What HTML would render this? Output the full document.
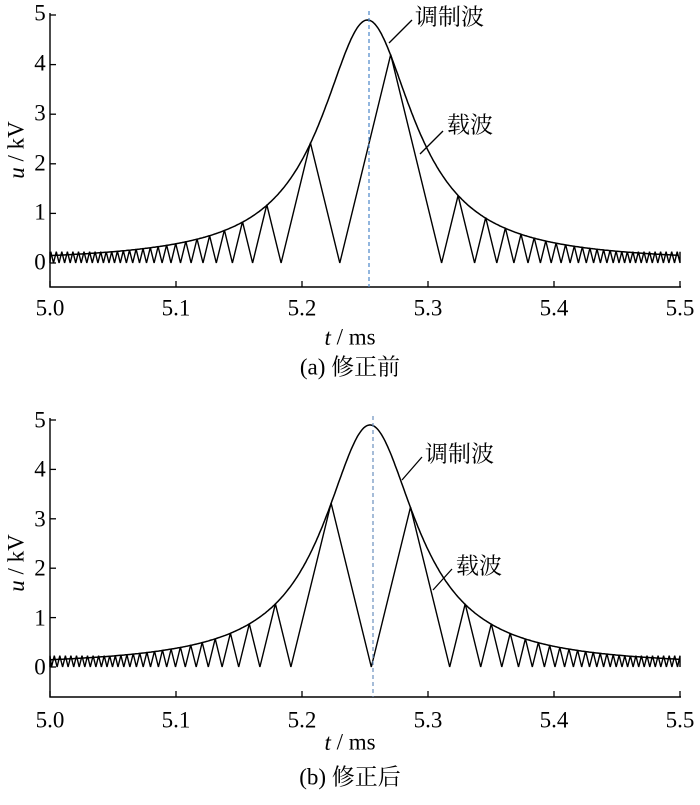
<!DOCTYPE html>
<html><head><meta charset="utf-8">
<style>
html,body{margin:0;padding:0;background:#fff;}
text{font-family:"Liberation Serif","Times New Roman","Noto Serif CJK SC",serif;}
</style></head>
<body>
<svg id="s" width="700" height="800" viewBox="0 0 700 800" xmlns="http://www.w3.org/2000/svg">
<g id="g"></g>
<g font-size="23" fill="#000" font-family="Liberation Serif, Noto Serif CJK SC, serif">
<text x="40" y="13" text-anchor="middle" dominant-baseline="central">5</text>
<text x="40" y="63" text-anchor="middle" dominant-baseline="central">4</text>
<text x="40" y="113" text-anchor="middle" dominant-baseline="central">3</text>
<text x="40" y="163" text-anchor="middle" dominant-baseline="central">2</text>
<text x="40" y="212" text-anchor="middle" dominant-baseline="central">1</text>
<text x="40" y="262" text-anchor="middle" dominant-baseline="central">0</text>
<text x="50" y="308" text-anchor="middle" dominant-baseline="central">5.0</text>
<text x="176" y="308" text-anchor="middle" dominant-baseline="central">5.1</text>
<text x="302" y="308" text-anchor="middle" dominant-baseline="central">5.2</text>
<text x="428" y="308" text-anchor="middle" dominant-baseline="central">5.3</text>
<text x="554" y="308" text-anchor="middle" dominant-baseline="central">5.4</text>
<text x="680" y="308" text-anchor="middle" dominant-baseline="central">5.5</text>
<text x="350" y="337" text-anchor="middle" dominant-baseline="central"><tspan font-style="italic">t</tspan> / ms</text>
<text x="350" y="367" text-anchor="middle" dominant-baseline="central">(a)  修正前</text>
<text transform="translate(16,150) rotate(-90)" text-anchor="middle" dominant-baseline="central"><tspan font-style="italic">u</tspan> / kV</text>
<text x="415" y="17" dominant-baseline="central">调制波</text>
<text x="447" y="125" dominant-baseline="central">载波</text>

<text x="40" y="420" text-anchor="middle" dominant-baseline="central">5</text>
<text x="40" y="469" text-anchor="middle" dominant-baseline="central">4</text>
<text x="40" y="519" text-anchor="middle" dominant-baseline="central">3</text>
<text x="40" y="568" text-anchor="middle" dominant-baseline="central">2</text>
<text x="40" y="618" text-anchor="middle" dominant-baseline="central">1</text>
<text x="40" y="667" text-anchor="middle" dominant-baseline="central">0</text>
<text x="50" y="720" text-anchor="middle" dominant-baseline="central">5.0</text>
<text x="176" y="720" text-anchor="middle" dominant-baseline="central">5.1</text>
<text x="302" y="720" text-anchor="middle" dominant-baseline="central">5.2</text>
<text x="428" y="720" text-anchor="middle" dominant-baseline="central">5.3</text>
<text x="554" y="720" text-anchor="middle" dominant-baseline="central">5.4</text>
<text x="680" y="720" text-anchor="middle" dominant-baseline="central">5.5</text>
<text x="350" y="742" text-anchor="middle" dominant-baseline="central"><tspan font-style="italic">t</tspan> / ms</text>
<text x="350" y="777" text-anchor="middle" dominant-baseline="central">(b)  修正后</text>
<text transform="translate(16,563) rotate(-90)" text-anchor="middle" dominant-baseline="central"><tspan font-style="italic">u</tspan> / kV</text>
<text x="425" y="454" dominant-baseline="central">调制波</text>
<text x="456" y="566" dominant-baseline="central">载波</text>
</g>
<g stroke="#000" stroke-width="1.3" fill="none">
<line x1="389" y1="43" x2="412" y2="20"/>
<line x1="420" y1="154" x2="443" y2="131"/>
<line x1="402" y1="480" x2="422" y2="457"/>
<line x1="433" y1="590" x2="452" y2="569"/>
</g>
</svg>
<script>
var g=document.getElementById('g');
function add(tag,attrs){var e=document.createElementNS('http://www.w3.org/2000/svg',tag);for(var k in attrs)e.setAttribute(k,attrs[k]);g.appendChild(e);}
function X(t){return 50+(t-5)*1260;}
function panel(y0,uy,ybot,ytop,tc,tv,dashX,dashCol){
  var Y=function(v){return y0-v*uy;};
  add('path',{d:'M50,'+ytop+' V'+ybot+' H681',stroke:'#000','stroke-width':1.4,fill:'none'});
  for(var i=0;i<=5;i++){add('line',{x1:50,x2:56,y1:Y(i),y2:Y(i),stroke:'#000','stroke-width':1.3});}
  for(var j=0;j<=5;j++){var x=X(5+j*0.1);add('line',{x1:x,x2:x,y1:ybot,y2:ybot-6,stroke:'#000','stroke-width':1.3});}
  var A=4.9,w=0.0446;
  function c(t){return A/(1+Math.pow((t-tc)/w,2));}
  var pts=[];
  for(var t=5;t<=5.5;t+=0.001)pts.push(X(t).toFixed(1)+','+Y(c(t)).toFixed(1));
  add('polyline',{points:pts.join(' '),stroke:'#000','stroke-width':1.5,fill:'none'});
  var s=104,hmin=0.22;
  function gen(dir){
    var arr=[[tv,0]],t=tv;
    while(t>4.99&&t<5.51){
      var h=0,tt=t;
      while(true){tt+=dir*0.0001;h=(tt-t)*dir*s;if(h>=hmin&&h>=c(tt))break;}
      arr.push([tt,h]);t=tt+dir*(h/s);arr.push([t,0]);
    }
    return arr;
  }
  var L=gen(-1).reverse(),R=gen(1);
  var all=L.concat(R.slice(1));
  var p2=[];
  all.forEach(function(q){var t=Math.max(5,Math.min(5.5,q[0]));p2.push(X(t).toFixed(1)+','+Y(q[1]).toFixed(1));});
  add('polyline',{points:p2.join(' '),stroke:'#000','stroke-width':1.4,fill:'none'});
  add('line',{x1:dashX,x2:dashX,y1:ytop-2,y2:ybot,stroke:dashCol,'stroke-width':1.2,'stroke-dasharray':'4,3'});
}
panel(263,49.6,287,13,5.252,5.230,369,'#4a86c8');
panel(667,49.4,697,418,5.254,5.255,373,'#6a8fbf');
</script>
</body></html>
